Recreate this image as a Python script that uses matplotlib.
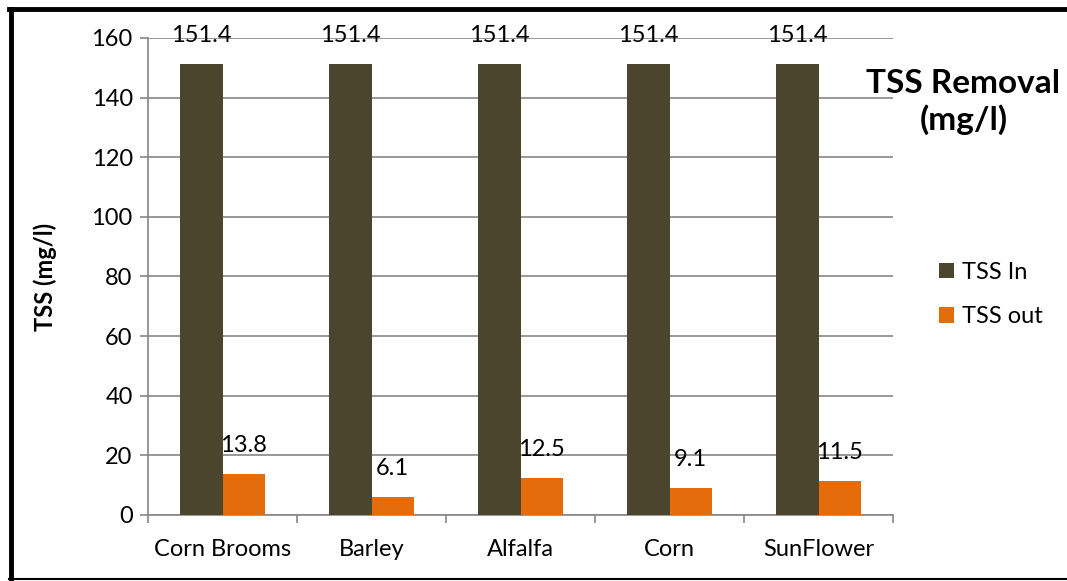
#!/usr/bin/env python

"""
---------- Import libraries ----------
"""
import numpy as np
import matplotlib
matplotlib.use("Agg")
import matplotlib.pyplot as plt
from matplotlib.lines import Line2D

"""
---------- Data ----------
"""
crops = ["Corn Brooms", "Barley", "Alfalfa", "Corn", "SunFlower"]
tss_in = [151.4, 151.4, 151.4, 151.4, 151.4]
tss_out = [13.8, 6.1, 12.5, 9.1, 11.5]
y_ticks = [0, 20, 40, 60, 80, 100, 120, 140, 160]

"""
---------- Plot ----------
"""
def main():
    plt.rcParams["font.family"] = ["Lato", "DejaVu Sans"]
    fig = plt.figure(figsize=(10.67, 5.81), dpi=100)
    ax = fig.add_axes([0.1387, 0.1136, 0.6983, 0.821])

    x = np.arange(len(crops))
    w = 0.285
    grid_col = "#868686"

    b_in = ax.bar(x - w / 2, tss_in, w, color="#4B452D", label="TSS In", zorder=3)
    b_out = ax.bar(x + w / 2, tss_out, w, color="#E46C0A", label="TSS out", zorder=3)

    # data labels above the bars
    for bars, vals in [(b_in, tss_in), (b_out, tss_out)]:
        for rect, v in zip(bars, vals):
            ax.annotate(f"{v}", (rect.get_x() + rect.get_width() / 2, v),
                        xytext=(0, 20.5), textcoords="offset points",
                        ha="center", va="center", fontsize=17, zorder=4)

    ax.set_xlim(-0.5, len(crops) - 0.5)
    ax.set_ylim(0, 160)
    ax.set_yticks(y_ticks)
    ax.set_xticks(x)
    ax.set_xticklabels(crops)
    ax.set_xticks(np.arange(-0.5, len(crops)), minor=True)
    ax.tick_params(axis="x", which="major", length=0, labelsize=17, pad=17)
    ax.tick_params(axis="x", which="minor", length=6, color=grid_col, width=1.2)
    ax.tick_params(axis="y", length=6, color=grid_col, width=1.2, labelsize=17, pad=5)

    ax.yaxis.grid(True, color=grid_col, linewidth=1.2, zorder=0)
    ax.set_axisbelow(True)
    for side in ["top", "right"]:
        ax.spines[side].set_visible(False)
    for side in ["left", "bottom"]:
        ax.spines[side].set_color(grid_col)
        ax.spines[side].set_linewidth(1.2)

    ax.set_ylabel("TSS (mg/l)", fontsize=17, fontweight="bold")
    ax.yaxis.set_label_coords(-0.122, 0.5)

    fig.text(0.903, 0.825, "TSS Removal\n(mg/l)", ha="center", va="center",
             fontsize=24, fontweight="bold", linespacing=1.25)

    fig.legend(handles=[b_in, b_out], loc="center left",
               bbox_to_anchor=(0.86, 0.493), frameon=False, fontsize=17,
               handlelength=0.65, handleheight=0.65, handletextpad=0.35,
               labelspacing=1.0)

    # outer border
    fig.add_artist(Line2D([0.0103, 0.0103], [0.003, 0.984], transform=fig.transFigure,
                          color="black", linewidth=3.5))
    fig.add_artist(Line2D([0.0085, 1.0], [0.984, 0.984], transform=fig.transFigure,
                          color="black", linewidth=3.5))
    fig.add_artist(Line2D([0.0085, 1.0], [0.003, 0.003], transform=fig.transFigure,
                          color="black", linewidth=1.5))

    fig.savefig("out.png", dpi=100)


if __name__ == "__main__":
    main()
